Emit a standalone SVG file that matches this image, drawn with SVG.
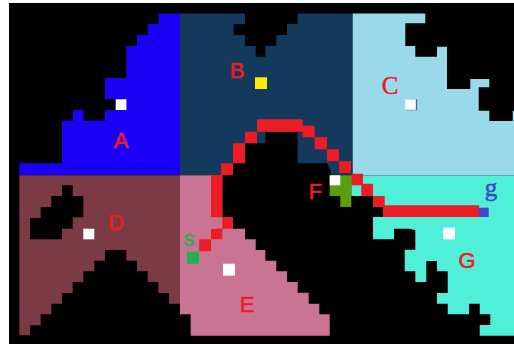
<svg xmlns="http://www.w3.org/2000/svg" width="514" height="344" viewBox="0 0 514 344">
<style>
.lbl{font-family:"Liberation Sans",Arial,sans-serif;font-size:22px;fill:#ed1c24;stroke:#ed1c24;stroke-width:.6px;text-anchor:middle}
.ser{font-family:"Liberation Serif","Times New Roman",serif;font-size:25px;text-anchor:middle;stroke-width:.5px}
.w{fill:#fff}
.r{fill:#ed1c24}
</style>
<rect width="514" height="344" fill="#fff"/>
<rect x="9" y="3" width="505" height="341" fill="#000"/>
<g id="region-A">
<polygon fill="#1a00f5" points="158.7,13.5 180,13.5 180,175 19.3,175 19.3,163.3 62,163.3 62,120.7 73,120.7 73,110 83.3,110 83.3,120.7 105,120.7 105,110 115.7,110 115.7,99.3 105,99.3 105,78 126.3,78 126.3,46 137,46 137,35 147.7,35 147.7,24 158.7,24"/>
<rect class="w" x="115.7" y="99.3" width="10.7" height="10.7"/>
<text class="lbl" x="121" y="147.5">A</text>
</g>
<g id="region-B">
<polygon fill="#133a5c" points="180,13.5 245,13.5 245,24 233.5,24 233.5,35 245,35 245,46 255.7,46 255.7,56.7 265.3,56.7 265.3,46 276.3,46 276.3,35 287,35 287,24 297.7,24 297.7,13.5 352.7,13.5 352.7,175 331,175 331,172 327,163.3 297.7,163.3 297.7,131.7 265.3,131.7 265.3,143.3 245,143.3 245,163.3 233,163.3 233,175 180,175"/>
<rect x="255" y="77.3" width="12" height="11.7" fill="#ffec00"/>
<text class="lbl" x="237" y="78">B</text>
</g>
<g id="region-C">
<polygon fill="#99d9ea" points="352.7,13.5 425.3,13.5 425.3,23.3 405.3,23.3 405.3,46 415.3,46 415.3,56.7 437,56.7 437,46.7 447,46.7 447,89 470.3,89 470.3,79 489.3,79 489.3,87.3 478.7,87.3 478.7,110.7 489.3,110.7 489.3,121 512.7,121 512.7,110.7 514,110.7 514,175.5 352.7,175.5"/>
<rect x="406.5" y="99.3" width="10.7" height="11" fill="#667"/>
<rect class="w" x="405.3" y="99.3" width="10.5" height="10.5"/>
<text class="ser" x="390" y="93.5" fill="#ed1c24" stroke="#ed1c24">C</text>
</g>
<g id="region-D">
<path fill="#7c3a44" fill-rule="evenodd" d="M19.3,175.3H180V303.7H169V293H158.3V282H147.7V271.3H137V260.7H126.3V250H105V260.7H94.3V271.3H83.3V282H72.7V293H62V303.7H51.3V314.3H40.7V325.3H30V335.3H19.3ZM62,185.3H72.7V196H83.3V217.3H72.7V228.7H62V239.3H30V218H40.7V207H51.3V196H62Z"/>
<rect class="w" x="83.3" y="228.7" width="11" height="10.6"/>
<text class="lbl" x="116" y="229.5">D</text>
</g>
<g id="region-E">
<polygon fill="#c97493" points="180,175.3 222.3,175.3 222.3,217.3 233,217.3 233,228.7 245,228.7 245,239.3 255.7,239.3 255.7,250 265.3,250 265.3,260.7 276.3,260.7 276.3,271.3 287,271.3 287,282 297.7,282 297.7,292.7 308.7,292.7 308.7,303.7 319.3,303.7 319.3,314.3 329.7,314.3 329.7,335.7 190.7,335.7 190.7,314.3 180,314.3"/>
<rect class="w" x="223" y="263.7" width="12" height="12"/>
<text class="lbl" x="247" y="312">E</text>
</g>
<g id="region-G">
<polygon fill="#50f0d8" points="363,175.5 514,175.5 514,335.7 479.7,335.7 479.7,325 490.3,325 490.3,314.3 479.7,314.3 479.7,303.7 469,303.7 469,314.3 447.7,314.3 447.7,303.7 437,303.7 437,293 447.7,293 447.7,271.3 437,271.3 437,261 426.3,261 426.3,282 415.3,282 415.3,271.3 404.7,271.3 404.7,249.7 415.3,249.7 415.3,230 409,228.7 394,228.7 394,239.3 373,239.3 373,217 383,217 383,207 373,207 373,196 351.3,196 351.3,175.5"/>
<rect class="w" x="443" y="227.7" width="12" height="11.6"/>
<text class="lbl" x="467" y="268">G</text>
</g>
<g id="connectors">
<path class="r" d="M199.3,251.3V239.3H211V228.7H222.3V217.3H211V175H221V163.3H233V143.3H245V131.7H257V119.3H302.7V125.7H314.7V137.3H327V149.3H339V161.3H351V173.7H363V183.7H373V196H384.7V205.3H479V217H383V207H373V196H361.3V185.3H351.3V173H339V161.3H327V149.3H314.7V137.3H302.7V131.7H257V143.3H245V163.3H233V175H222.3V217.3H233V228.7H222.3V239.3H211V251.3Z"/>
</g>
<g id="node-F">
<path fill="#5a9e0a" d="M329.7,175.3H351.3V207H340.3V196H329.7Z"/>
<rect class="w" x="329.7" y="175.3" width="10.6" height="10"/>
<text class="lbl" x="315.5" y="199.3">F</text>
</g>
<g id="node-s">
<rect x="187" y="251.7" width="12" height="12" fill="#22b14c"/>
<text class="lbl" x="189" y="246" style="fill:#3aa655;stroke:#3aa655">s</text>
</g>
<g id="node-g">
<rect x="479" y="207.7" width="9.7" height="9.3" fill="#3f48cc"/>
<text class="ser" x="491" y="196" fill="#3f48cc" stroke="#3f48cc">g</text>
</g>
</svg>
